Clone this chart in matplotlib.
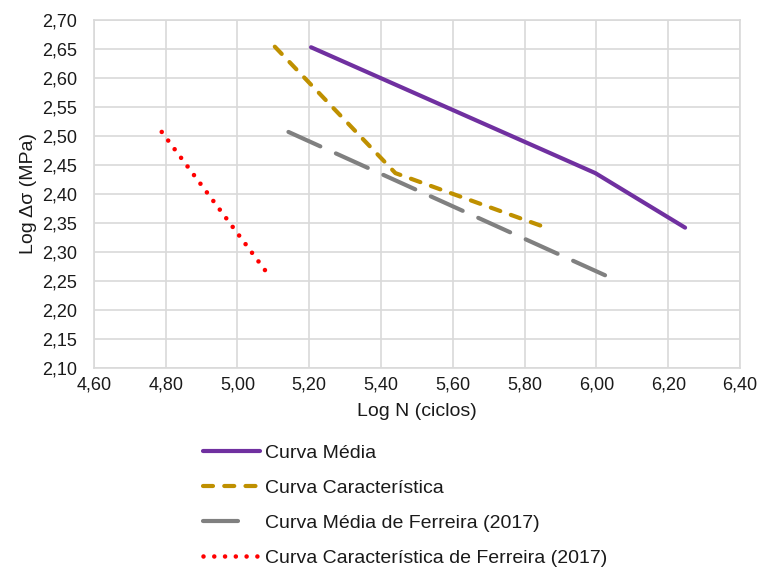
import matplotlib.pyplot as plt
from matplotlib.ticker import FuncFormatter, MultipleLocator

plt.rcParams['font.family'] = ['Liberation Sans', 'DejaVu Sans']

# curvas S-N (log N x log delta sigma)
media_x = [5.205, 5.997, 6.247]
media_y = [2.653, 2.436, 2.342]
carac_x = [5.104, 5.440, 5.860]
carac_y = [2.654, 2.436, 2.342]
ferreira_media_x = [5.142, 6.038]
ferreira_media_y = [2.507, 2.256]
ferreira_carac_x = [4.789, 5.086]
ferreira_carac_y = [2.507, 2.261]

labels = ["Curva Média", "Curva Característica",
          "Curva Média de Ferreira (2017)", "Curva Característica de Ferreira (2017)"]
colors = ["#7030A0", "#BF9000", "#808080", "#FF0000"]
txt = '#1a1a1a'

fig = plt.figure(figsize=(7.6, 5.69), dpi=100)
ax = fig.add_axes([93.9/760, 1-368/569, (740-93.9)/760, (368-20)/569])

lw = 3
ax.plot(media_x, media_y, color=colors[0], lw=lw, solid_capstyle='round', label=labels[0])
ax.plot(carac_x, carac_y, color=colors[1], lw=lw, dashes=(2.4, 2.7),
        dash_capstyle='round', label=labels[1])
ax.plot(ferreira_media_x, ferreira_media_y, color=colors[2], lw=lw, dashes=(8.4, 4.1),
        dash_capstyle='round', label=labels[2])
ax.plot(ferreira_carac_x, ferreira_carac_y, color=colors[3], lw=3.3, dashes=(0.001, 2.35),
        dash_capstyle='round', label=labels[3])

ax.set_xlim(4.6, 6.4)
ax.set_ylim(2.1, 2.7)
ax.xaxis.set_major_locator(MultipleLocator(0.2))
ax.yaxis.set_major_locator(MultipleLocator(0.05))
fmt = FuncFormatter(lambda v, p: f"{v:.2f}".replace('.', ','))
ax.xaxis.set_major_formatter(fmt)
ax.yaxis.set_major_formatter(fmt)
ax.tick_params(length=0, labelsize=13, colors=txt)
ax.tick_params(axis='y', pad=12)
ax.tick_params(axis='x', pad=6)
ax.grid(True, color='#D9D9D9', lw=1.2)
ax.set_axisbelow(True)
for s in ax.spines.values():
    s.set_color('#D9D9D9')
    s.set_linewidth(1.2)

ax.set_xlabel("Log N (ciclos)", fontsize=14, color=txt, labelpad=7)
ax.set_ylabel("Log Δσ (MPa)", fontsize=14, color=txt, labelpad=4)

leg = fig.legend(loc='upper left', bbox_to_anchor=(203/760, 1-444/569), frameon=False,
                 fontsize=14, handlelength=2.95, handletextpad=0.26, labelspacing=0.9,
                 borderpad=0, borderaxespad=0, labelcolor=txt)
# na legenda a curva de Ferreira mostra um traço só
leg.get_lines()[2].set_dashes((8.4, 10))

fig.savefig("out.png", dpi=100)
